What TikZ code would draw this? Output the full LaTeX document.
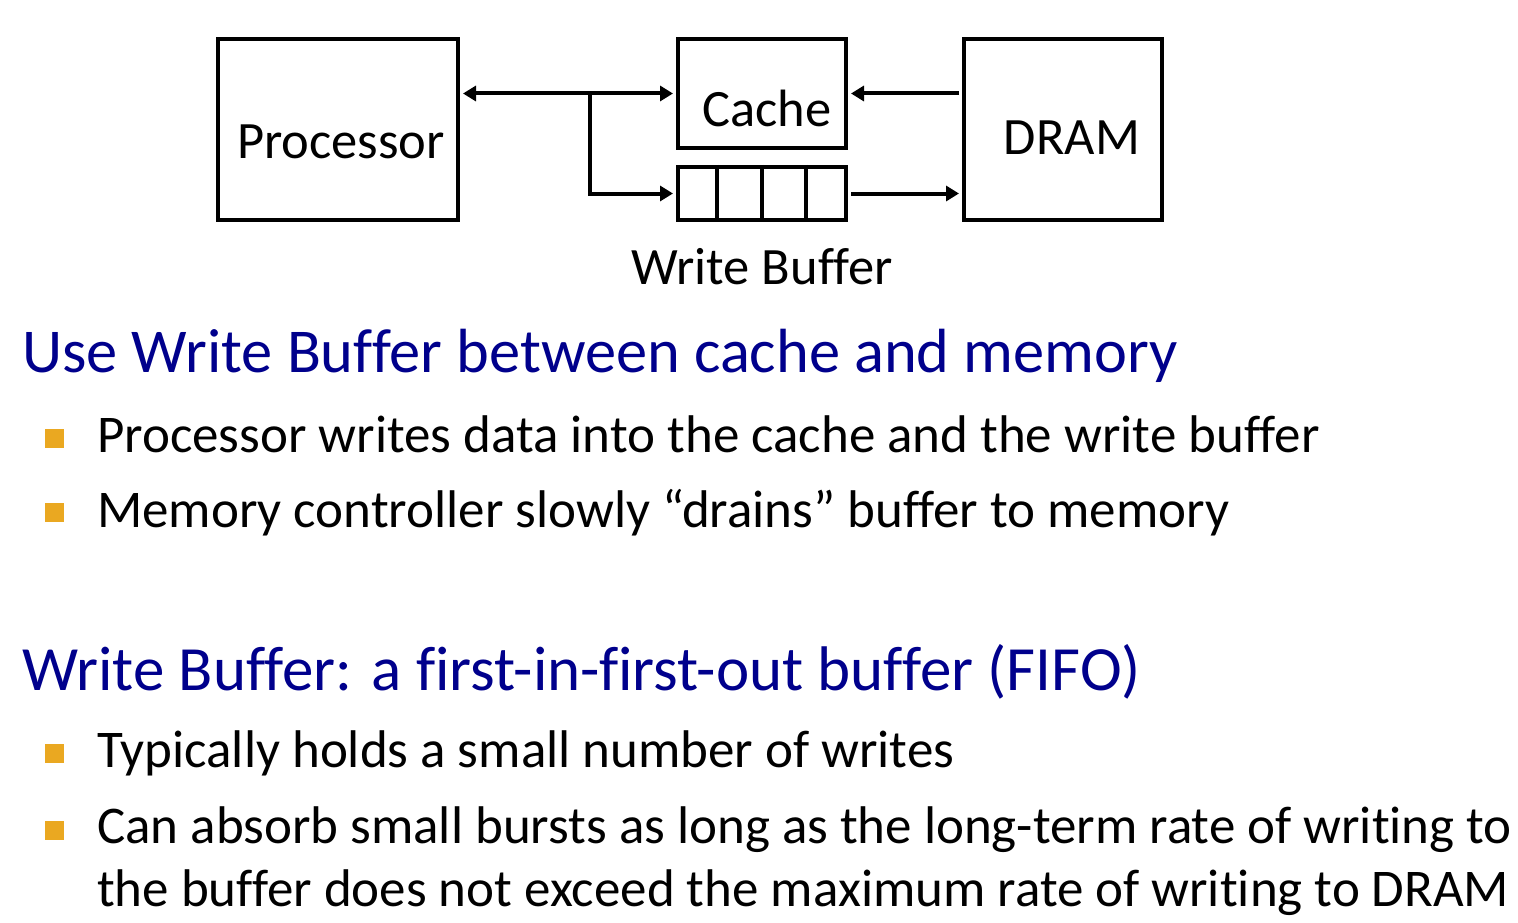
\documentclass[tikz,border=0pt]{standalone}
\usepackage{fontspec}
\setmainfont{Carlito}[Ligatures=CommonOff]
\usetikzlibrary{arrows.meta,calc}
\definecolor{headblue}{RGB}{0,0,140}
\definecolor{bulletorange}{RGB}{234,168,33}
\begin{document}
\begin{tikzpicture}[x=1pt,y=-1pt,
  box/.style={draw=black,line width=4pt,inner sep=0pt,minimum width=#1},
  arr/.style={line width=4pt,-{Triangle[length=13pt,width=15pt]}},
  darr/.style={line width=4pt,{Triangle[length=13pt,width=15pt]}-{Triangle[length=13pt,width=15pt]}},
  lbl/.style={inner sep=0pt,font=\fontsize{52.5}{62}\selectfont},
  head/.style={inner sep=0pt,anchor=base west,text=headblue,font=\fontsize{63}{74}\selectfont},
  btxt/.style={inner sep=0pt,anchor=base west,font=\fontsize{53}{63}\selectfont},
  bsq/.style={fill=bulletorange,inner sep=0pt,minimum size=19pt}
]
\useasboundingbox (0,0) rectangle (1518,923);
% boxes
\node[box=240pt,minimum height=181pt] (proc) at (338,129.5) {};
\node[box=168pt,minimum height=109pt] (cache) at (762,93.5) {};
\node[box=168pt,minimum height=53pt] (buf) at (762,193.5) {};
\node[box=198pt,minimum height=181pt] (dram) at (1063,129.5) {};
\foreach \f in {0.238,0.5,0.756}
  \draw[line width=4pt] ($(buf.north west)!\f!(buf.north east)$) -- ($(buf.south west)!\f!(buf.south east)$);
% box texts
\node[lbl] (proct) at (341,142) {Processor};
\node[lbl] (cachet) at (767,108) {Cache};
\node[lbl] (dramt) at (1072,138) {DRAM};
\node[lbl,anchor=base] (buft) at (762,284) {Write Buffer};
% connectors
\coordinate (j) at (590,94);
\draw[darr,shorten <=3pt,shorten >=3pt] (proc.east |- cache.west) -- (cache.west);
\draw[arr,shorten >=3pt] (j) |- (buf.west);
\draw[arr,shorten <=3pt,shorten >=3pt] (dram.west |- cache.east) -- (cache.east);
\draw[arr,shorten <=3pt,shorten >=3pt] (buf.east) -- (dram.west |- buf.east);
% text
\node[head,font=\fontsize{62.4}{74}\selectfont] (h1) at (22,372) {Use Write Buffer between cache and memory};
\node[bsq] (s1) at (54,438) {};
\node[btxt] (b1) at (97,452) {Processor writes data into the cache and the write buffer};
\node[bsq] (s2) at (54,512) {};
\node[btxt] (b2) at (97,527) {Memory controller slowly “drains” buffer to memory};
\node[head] (h2) at (22,690) {Write Buffer: a first-in-first-out buffer (FIFO)};
\node[bsq] (s3) at (54,753) {};
\node[btxt] (b3) at (97,767) {Typically holds a small number of writes};
\node[bsq] (s4) at (54,830) {};
\node[btxt] (b4) at (97,843) {Can absorb small bursts as long as the long-term rate of writing to};
\node[btxt] (b4b) at (97,906) {the buffer does not exceed the maximum rate of writing to DRAM};
\end{tikzpicture}
\end{document}
